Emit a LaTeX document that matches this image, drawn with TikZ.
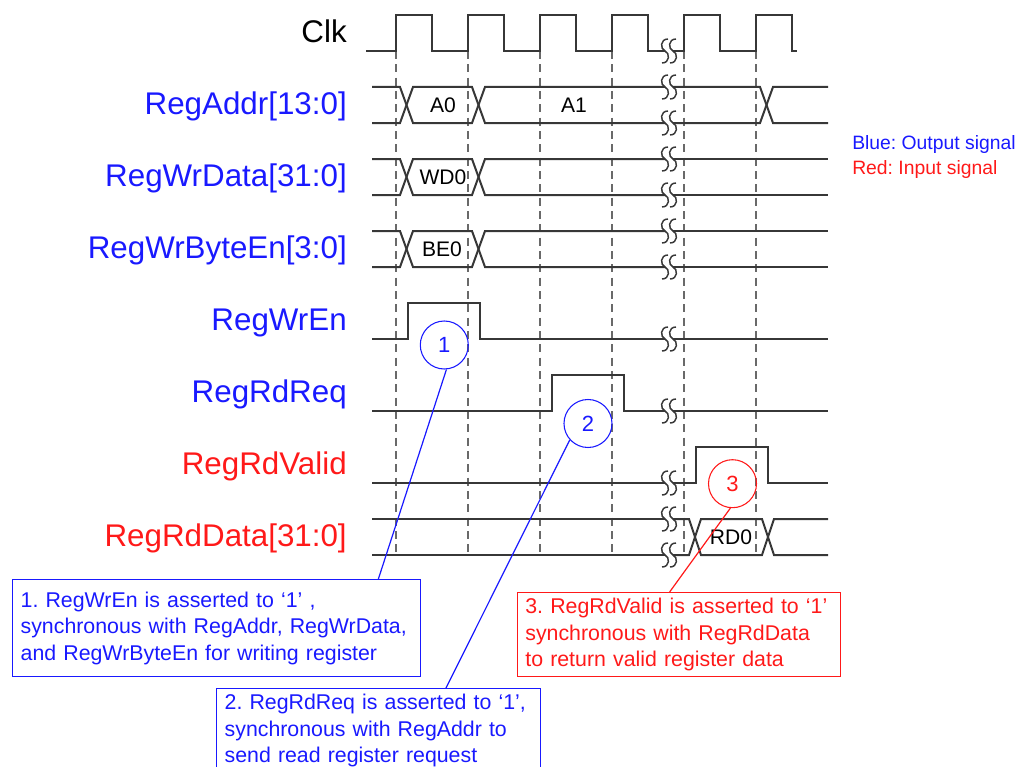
\documentclass[tikz,border=0pt]{standalone}
\usepackage{fontspec}
\setmainfont{Liberation Sans}
\usetikzlibrary{calc}
\definecolor{sig}{RGB}{55,55,55}
\definecolor{dsh}{RGB}{105,105,105}
\definecolor{outb}{RGB}{25,25,255}
\definecolor{inr}{RGB}{255,25,25}
\tikzset{
  brk/.pic={
    \draw[sig, line width=1.1pt] (-1,-12) .. controls (-9,-12) and (-9,-2) .. (-4,0) .. controls (1,2) and (1,12) .. (-7,12);
    \draw[sig, line width=1.1pt] (7,-12) .. controls (-1,-12) and (-1,-2) .. (4,0) .. controls (9,2) and (9,12) .. (1,12);
  }
}
\begin{document}
\frenchspacing
\begin{tikzpicture}[x=0.75pt,y=-0.75pt,
  sigl/.style={draw=sig, line width=1.5pt, line join=miter},
  grid/.style={draw=dsh, line width=1.1pt, dash pattern=on 6pt off 4pt},
  lbl/.style={anchor=base east, inner sep=0pt, font=\fontsize{23.5pt}{28pt}\selectfont},
  bustxt/.style={inner sep=0pt, font=\fontsize{15.8pt}{19pt}\selectfont, text=black},
  legend/.style={anchor=west, inner sep=0pt, font=\fontsize{14.5pt}{17pt}\selectfont},
  num/.style={circle, draw, line width=0.8pt, minimum size=36pt, inner sep=0pt, font=\fontsize{16.5pt}{19pt}\selectfont},
  note/.style={draw, line width=1pt, anchor=north west, align=left, inner xsep=6pt, inner ysep=0pt,
    font=\fontsize{16pt}{20pt}\selectfont},
  conn/.style={line width=0.9pt}
]
\useasboundingbox (0,0) rectangle (1031,767);
\clip (0,0) rectangle (1031,767);

% dashed clock-edge guides
\foreach \x in {396,468,540,612,684,756}
  \draw[grid] (\x,51) -- (\x,556);

% Clk
\draw[sigl] (366,51) -- (396,51) -- (396,15) -- (432,15) -- (432,51) -- (468,51) -- (468,15) -- (504,15) -- (504,51)
  -- (540,51) -- (540,15) -- (576,15) -- (576,51) -- (612,51) -- (612,15) -- (648,15) -- (648,51) -- (665,51);
\draw[sigl] (673,51) -- (684,51) -- (684,15) -- (720,15) -- (720,51) -- (756,51) -- (756,15) -- (792,15) -- (792,51) -- (797,51);

% RegAddr
\draw[sigl] (372,87) -- (400,87) -- (413,123) -- (472,123) -- (485,87) -- (665,87);
\draw[sigl] (372,123) -- (400,123) -- (413,87) -- (472,87) -- (485,123) -- (665,123);
\draw[sigl] (673,87) -- (760,87) -- (773,123) -- (828,123);
\draw[sigl] (673,123) -- (760,123) -- (773,87) -- (828,87);

% RegWrData
\draw[sigl] (372,159) -- (400,159) -- (413,195) -- (472,195) -- (485,159) -- (665,159);
\draw[sigl] (372,195) -- (400,195) -- (413,159) -- (472,159) -- (485,195) -- (665,195);
\draw[sigl] (673,159) -- (828,159);
\draw[sigl] (673,195) -- (828,195);

% RegWrByteEn
\draw[sigl] (372,231) -- (400,231) -- (413,267) -- (472,267) -- (485,231) -- (665,231);
\draw[sigl] (372,267) -- (400,267) -- (413,231) -- (472,231) -- (485,267) -- (665,267);
\draw[sigl] (673,231) -- (828,231);
\draw[sigl] (673,267) -- (828,267);

% RegWrEn
\draw[sigl] (372,339) -- (408,339) -- (408,303) -- (480,303) -- (480,339) -- (665,339);
\draw[sigl] (673,339) -- (828,339);

% RegRdReq
\draw[sigl] (372,411) -- (552,411) -- (552,375) -- (624,375) -- (624,411) -- (665,411);
\draw[sigl] (673,411) -- (828,411);

% RegRdValid
\draw[sigl] (372,483) -- (665,483);
\draw[sigl] (673,483) -- (696,483) -- (696,447) -- (768,447) -- (768,483) -- (828,483);

% RegRdData
\draw[sigl] (372,519) -- (665,519);
\draw[sigl] (372,555) -- (665,555);
\draw[sigl] (673,519) -- (689,519) -- (701,555) -- (762,555) -- (774,519) -- (828,519);
\draw[sigl] (673,555) -- (689,555) -- (701,519) -- (762,519) -- (774,555) -- (828,555);

% break marks
\foreach \y in {51,87,123,159,195,231,267,339,411,483,519,555}
  \pic at (669,\y) {brk};

% signal names
\node[lbl, text=black] (nclk) at (347,42.5) {Clk};
\node[lbl, text=outb] (naddr) at (347,114.5) {RegAddr[13:0]};
\node[lbl, text=outb] (nwd) at (347,186.5) {RegWrData[31:0]};
\node[lbl, text=outb] (nbe) at (347,258.5) {RegWrByteEn[3:0]};
\node[lbl, text=outb] (nwe) at (347,330.5) {RegWrEn};
\node[lbl, text=outb] (nrq) at (347,402.5) {RegRdReq};
\node[lbl, text=inr] (nrv) at (347,474.5) {RegRdValid};
\node[lbl, text=inr] (nrd) at (347,546.5) {RegRdData[31:0]};

% bus values
\node[bustxt] (a0) at (443,105) {A0};
\node[bustxt] (a1) at (574,105) {A1};
\node[bustxt] (wd0) at (443,177) {WD0};
\node[bustxt] (be0) at (442,249) {BE0};
\node[bustxt] (rd0) at (731,537) {RD0};

% legend
\node[legend, text=outb] (lgb) at (852,145) {Blue: Output signal};
\node[legend, text=inr] (lgr) at (852,170) {Red: Input signal};

% numbered markers
\node[num, draw=outb, text=outb] (c1) at (444.3,345) {1};
\node[num, draw=outb, text=outb] (c2) at (588,423.5) {2};
\node[num, draw=inr, text=inr] (c3) at (732.5,483.7) {3};

% notes
\node[note, draw=outb, text=outb, text width=294pt, minimum height=72.75pt] (b1) at (12,579)
  {1. RegWrEn is asserted to ‘1’ ,\\synchronous with RegAddr, RegWrData,\\and RegWrByteEn for writing register};
\node[note, draw=outb, text=outb, text width=231pt, minimum height=63pt] (b2) at (216,688)
  {2. RegRdReq is asserted to ‘1’,\\synchronous with RegAddr to\\send read register request};
\node[note, draw=inr, text=inr, text width=230.5pt, minimum height=63pt] (b3) at (516.7,592)
  {3. RegRdValid is asserted to ‘1’\\synchronous with RegRdData\\to return valid register data};

% connectors
\draw[conn, outb] (c1.-85) -- ($(b1.north west)!0.895!(b1.north east)$);
\draw[conn, outb] (c2.222) -- ($(b2.north west)!0.707!(b2.north east)$);
\draw[conn, inr] (c3.265) -- ($(b3.north west)!0.471!(b3.north east)$);
\end{tikzpicture}
\end{document}
